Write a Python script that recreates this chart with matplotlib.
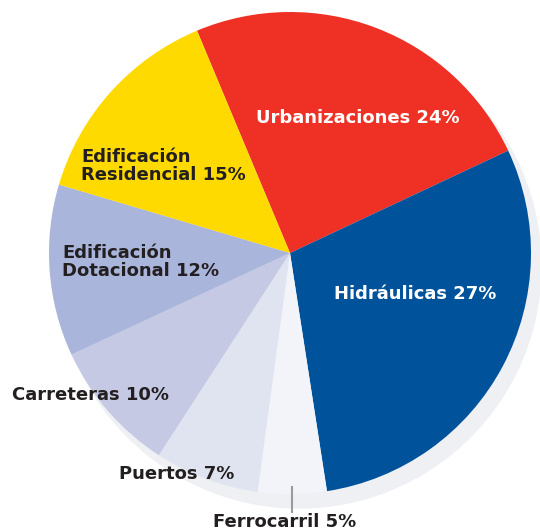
import matplotlib.pyplot as plt
from matplotlib.patches import Circle

# sectores en el orden de dibujo (sentido horario desde la parte superior)
sectores = ['Urbanizaciones', 'Hidráulicas', 'Ferrocarril', 'Puertos',
            'Carreteras', 'Edificación\nDotacional', 'Edificación\nResidencial']
porcentajes = [24, 27, 5, 7, 10, 12, 15]          # lo que dicen las etiquetas
tamanos = [24.3, 29.5, 4.6, 7.0, 8.9, 11.5, 14.1]  # lo que miden las porciones
colores = ['#EE3124', '#00529B', '#F2F4F9', '#DFE4F0',
           '#C5C9E4', '#A9B5DA', '#FFDA00']
color_texto = ['white', 'white', '#231F20', '#231F20',
               '#231F20', '#231F20', '#231F20']
# posicion de cada etiqueta (px, borde izquierdo y centro vertical)
pos_etiquetas = [(256, 118), (334, 294), (213, 522), (119, 474),
                 (12, 395), (62, 262), (81, 166)]

W, H = 540, 532
cx, cy, r = 290, H - 253, 241

fig = plt.figure(figsize=(5.4, 5.32), dpi=100)
ax = fig.add_axes([0, 0, 1, 1])

# sombra
ax.add_patch(Circle((cx + 9, cy - 13), r + 1, color='#EEF0F3', zorder=0))

ax.pie(tamanos, colors=colores, startangle=112.7, counterclock=False,
       center=(cx, cy), radius=r, frame=True,
       wedgeprops=dict(linewidth=0, zorder=1))
ax.set_xlim(0, W)
ax.set_ylim(0, H)
ax.set_aspect('equal')
ax.axis('off')

# linea guia de Ferrocarril
ax.plot([292, 292], [H - 487, H - 512], color='#9A9A9A', lw=1.5, zorder=2)

for nombre, p, col, (x, y) in zip(sectores, porcentajes, color_texto, pos_etiquetas):
    ax.text(x, H - y, f'{nombre} {p}%', color=col, fontsize=13,
            fontweight='bold', ha='left', va='center', linespacing=1.0,
            zorder=3)

fig.savefig('out.png', dpi=100)
